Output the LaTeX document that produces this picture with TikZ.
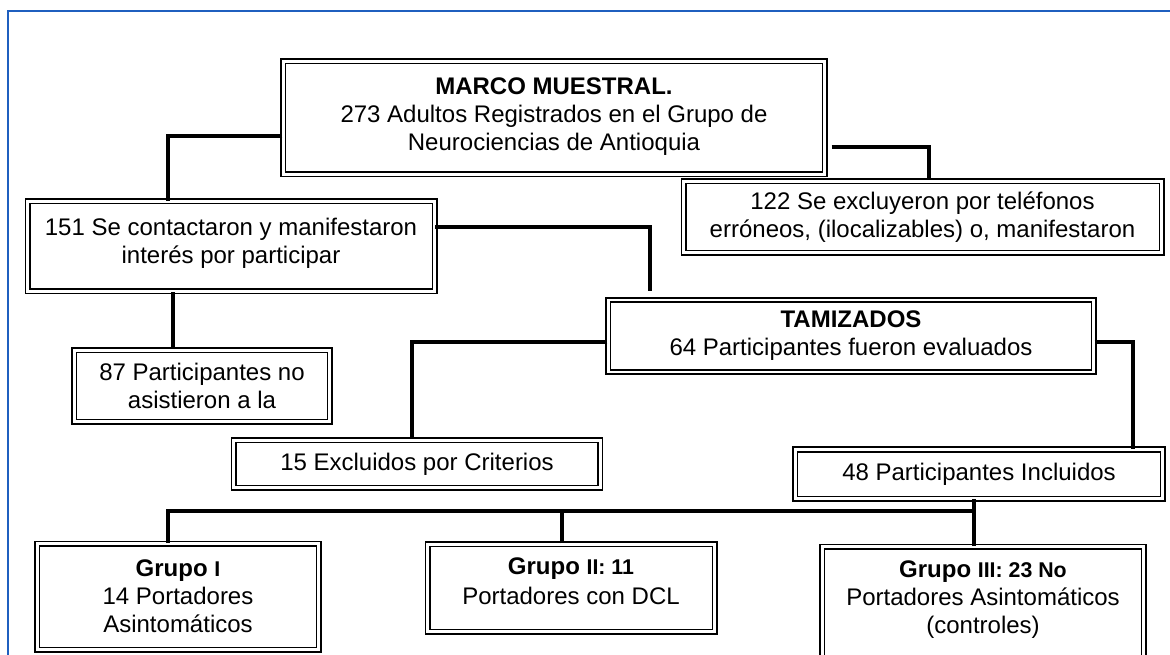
\documentclass[tikz,border=0pt]{standalone}
\usepackage{fontspec}
\setmainfont{Liberation Sans}
\newcommand{\pxu}{0.75pt}
\newcommand{\numsz}{\fontsize{16}{21}\selectfont}
\definecolor{framebl}{RGB}{31,95,191}
\begin{document}
\begin{tikzpicture}[x=0.75pt,y=-0.75pt,
  box/.style={draw,line width=1.2pt,double,double distance=2.1pt,align=center,
    inner sep=0pt,font=\fontsize{18}{21}\selectfont},
  link/.style={line width=3.2pt}]
\useasboundingbox (0,0) rectangle (1170,655);
\clip (0,0) rectangle (1170,655);
\draw[line width=1.5pt,framebl] (8,660) -- (8,11) -- (1175,11);

% boxes
\node[box,minimum width=541.5*\pxu,minimum height=113*\pxu,text depth=6pt] (marco) at (554,118)
  {\textbf{MARCO MUESTRAL.}\\273 Adultos Registrados en el Grupo de\\Neurociencias de Antioquia};
\node[box,minimum width=407*\pxu,minimum height=90*\pxu,text depth=8.3pt] (contact) at (231,246.5)
  {151 Se contactaron y manifestaron\\interés por participar};
\node[box,minimum width=478*\pxu,minimum height=71.5*\pxu] (excl) at (922.5,217)
  {122 Se excluyeron por teléfonos\\erróneos, (ilocalizables) o, manifestaron};
\node[box,minimum width=485.5*\pxu,minimum height=72*\pxu] (tam) at (851,336)
  {\textbf{TAMIZADOS}\\64 Participantes fueron evaluados};
\node[box,minimum width=255.5*\pxu,minimum height=71.5*\pxu] (noasist) at (202,386)
  {87 Participantes no\\asistieron a la};
\node[box,minimum width=366.5*\pxu,minimum height=47.5*\pxu] (crit) at (417,464)
  {15 Excluidos por Criterios};
\node[box,minimum width=367.5*\pxu,minimum height=49*\pxu] (incl) at (979,474)
  {48 Participantes Incluidos};
\node[box,minimum width=281.5*\pxu,minimum height=106*\pxu] (g1) at (178,596.5)
  {\textbf{Grupo} {\numsz\textbf{I}}\\14 Portadores\\Asintomáticos};
\node[box,minimum width=287*\pxu,minimum height=87.5*\pxu,text depth=10.3pt] (g2) at (571,588)
  {\textbf{Grupo} {\numsz\textbf{II: 11}}\\[2pt]Portadores con DCL};
\node[box,minimum width=321.5*\pxu,minimum height=118.5*\pxu,text depth=13.5pt] (g3) at (983,606)
  {\textbf{Grupo} {\numsz\textbf{III: 23 No}}\\Portadores Asintomáticos\\(controles)};

% connectors
\coordinate (bus) at (974,511);
\draw[link] (marco.west |- 0,136) -| (168,0 |- contact.north);
\draw[link,shorten <=4.5pt] (marco.east |- 0,147) -| (929,0 |- excl.north);
\draw[link,shorten >=6pt] (contact.east |- 0,227) -| (650,0 |- tam.north);
\draw[link] (173,0 |- contact.south) -- (173,0 |- noasist.north);
\draw[link] (tam.west |- 0,342) -| (412,0 |- crit.north);
\draw[link] (tam.east |- 0,342) -| (1133,0 |- incl.north);
\draw[link] (974,0 |- incl.south) -- (974,0 |- g3.north);
\draw[link] (168,0 |- g1.north) |- (bus);
\draw[link] (562,0 |- g2.north) -- (562,0 |- bus);
\end{tikzpicture}
\end{document}
